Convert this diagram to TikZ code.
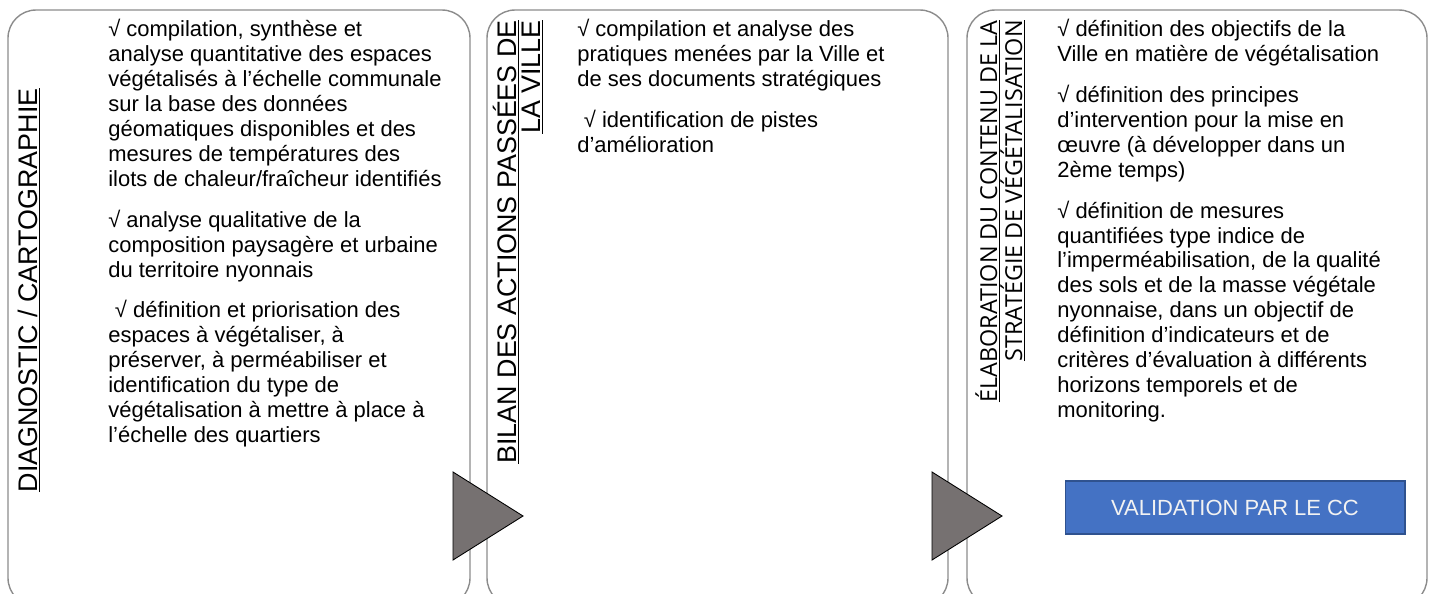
\documentclass[tikz,border=0pt]{standalone}
\usepackage{fontspec}
\setmainfont{Liberation Sans}
\newfontfamily\elabfont{Open Sans}
\definecolor{panelgray}{HTML}{8C8C8C}
\definecolor{chevrongray}{HTML}{767171}
\definecolor{validblue}{HTML}{4472C4}
\definecolor{validedge}{HTML}{2F528F}
\newcommand{\coche}{√\ }

\begin{document}
\begin{tikzpicture}[x=0.02cm, y=-0.02cm,
    panel/.style={draw=panelgray, line width=0.8pt, rounded corners=16pt},
    chevron/.style={fill=chevrongray, draw=black, line width=0.5pt},
    titletext/.style={rotate=90, anchor=base east, inner sep=0pt, font=\fontsize{15.3}{15.3}\selectfont},
    elabtitle/.style={titletext, font=\elabfont\fontsize{13.3}{13.3}\selectfont},
    bodytext/.style={anchor=north west, align=left, inner sep=0pt, font=\fontsize{12.5}{14.2}\selectfont},
    validbox/.style={fill=validblue, draw=validedge, line width=0.6pt, text=white!95!black, minimum width=6.8cm, minimum height=1.06cm, font=\fontsize{12.5}{14}\selectfont}]
    \useasboundingbox (0,0) rectangle (1430,593);
    \clip (0,0) rectangle (1430,593);

    % three panels, open at the bottom edge
    \draw[panel] (8,10) rectangle (470,606);
    \draw[panel] (487,10) rectangle (948,606);
    \draw[panel] (967,10) rectangle (1427,606);

    % panel titles
    \node[titletext] (diagtitle) at (37,88) {\underline{DIAGNOSTIC / CARTOGRAPHIE}};
    \node[titletext] (bilantitle) at (516,20) {\underline{BILAN DES ACTIONS PASSÉES DE}};
    \node[titletext] (bilantitleb) at (540,20) {\underline{LA VILLE}};
    \node[elabtitle] (elabtitlea) at (997,20) {\underline{ÉLABORATION DU CONTENU DE LA}};
    \node[elabtitle] (elabtitleb) at (1022,20) {\underline{STRATÉGIE DE VÉGÉTALISATION}};

    % panel contents
    \node[bodytext] (diagtext) at (108,19) {\coche compilation, synthèse et\\
        analyse quantitative des espaces\\
        végétalisés à l’échelle communale\\
        sur la base des données\\
        géomatiques disponibles et des\\
        mesures de températures des\\
        ilots de chaleur/fraîcheur identifiés\\[9pt]
        \coche analyse qualitative de la\\
        composition paysagère et urbaine\\
        du territoire nyonnais\\[9pt]
        \hspace*{0.3em}\coche définition et priorisation des\\
        espaces à végétaliser, à\\
        préserver, à perméabiliser et\\
        identification du type de\\
        végétalisation à mettre à place à\\
        l’échelle des quartiers};

    \node[bodytext] (bilantext) at (577,19) {\coche compilation et analyse des\\
        pratiques menées par la Ville et\\
        de ses documents stratégiques\\[9pt]
        \hspace*{0.3em}\coche identification de pistes\\
        d’amélioration};

    \node[bodytext] (elabtext) at (1057,19) {\coche définition des objectifs de la\\
        Ville en matière de végétalisation\\[9pt]
        \coche définition des principes\\
        d’intervention pour la mise en\\
        œuvre (à développer dans un\\
        2ème temps)\\[9pt]
        \coche définition de mesures\\
        quantifiées type indice de\\
        l’imperméabilisation, de la qualité\\
        des sols et de la masse végétale\\
        nyonnaise, dans un objectif de\\
        définition d’indicateurs et de\\
        critères d’évaluation à différents\\
        horizons temporels et de\\
        monitoring.};

    % step arrows between panels
    \draw[chevron] (453,472) -- (523,516) -- (453,560) -- cycle;
    \draw[chevron] (932,472) -- (1002,516) -- (932,560) -- cycle;

    \node[validbox] (validation) at (1235,507.5) {VALIDATION PAR LE CC};
\end{tikzpicture}
\end{document}
